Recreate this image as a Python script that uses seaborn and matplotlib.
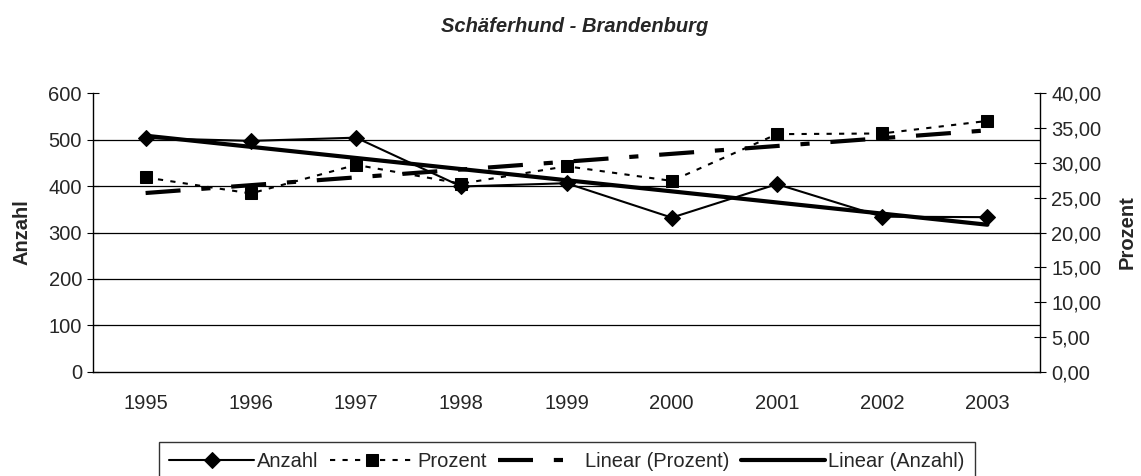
"""
Schäferhund - Brandenburg: Anzahl und Prozent 1995-2003 mit linearen Trendlinien.
"""

import numpy as np
import pandas as pd
import seaborn as sns
import matplotlib.pyplot as plt
from matplotlib.ticker import FuncFormatter, MultipleLocator

# Data
years = ["1995", "1996", "1997", "1998", "1999", "2000", "2001", "2002", "2003"]
anzahl = [503, 497, 504, 399, 406, 332, 404, 334, 333]
prozent = [27.9, 25.6, 29.7, 27.0, 29.5, 27.4, 34.1, 34.2, 36.0]

df = pd.DataFrame({"pos": np.arange(len(years)), "anzahl": anzahl, "prozent": prozent})

# Linear trend lines (as Excel computes them)
fit_a = np.polyfit(df["pos"], df["anzahl"], 1)
fit_p = np.polyfit(df["pos"], df["prozent"], 1)
df["trend_anzahl"] = np.polyval(fit_a, df["pos"])
df["trend_prozent"] = np.polyval(fit_p, df["pos"])

sns.set_style("white")
plt.rcParams["font.family"] = ["Liberation Sans", "DejaVu Sans"]
FS = 14.5
plt.rcParams["font.size"] = FS

fig, ax = plt.subplots(figsize=(11.41, 4.76), dpi=100)
fig.subplots_adjust(left=0.0815, right=0.9115, top=0.8046, bottom=0.2185)
ax2 = ax.twinx()

sns.lineplot(data=df, x="pos", y="anzahl", ax=ax, color="black", lw=1.5,
             marker="D", markersize=8.5, markeredgecolor="black", label="Anzahl")
sns.lineplot(data=df, x="pos", y="trend_anzahl", ax=ax, color="black", lw=3,
             label="Linear (Anzahl)")
sns.lineplot(data=df, x="pos", y="prozent", ax=ax2, color="black", lw=1.5,
             linestyle=(0, (2.5, 3.5)), marker="s", markersize=9,
             markeredgecolor="black", label="Prozent")
sns.lineplot(data=df, x="pos", y="trend_prozent", ax=ax2, color="black", lw=3,
             linestyle=(0, (8.4, 5, 2.2, 5)), label="Linear (Prozent)")

# Axes ranges and ticks
ax.set_xlim(-0.5, len(years) - 0.5)
ax.set_ylim(0, 600)
ax2.set_ylim(0, 40)
ax.set_xticks(df["pos"])
ax.set_xticklabels(years, fontsize=FS)
ax.set_xticks(np.arange(-0.5, len(years), 1), minor=True)
ax.tick_params(axis="x", which="major", length=0, pad=16, labelsize=FS)
ax.tick_params(axis="x", which="minor", direction="out", length=5, color="black")
ax.yaxis.set_major_locator(MultipleLocator(100))
ax.tick_params(axis="y", direction="inout", length=8, color="black", pad=4, labelsize=FS)
ax2.yaxis.set_major_locator(MultipleLocator(5))
ax2.yaxis.set_major_formatter(FuncFormatter(lambda v, p: f"{v:.2f}".replace(".", ",")))
ax2.tick_params(axis="y", direction="inout", length=8, color="black", pad=4, labelsize=FS)

ax.set_xlabel("")
ax.set_ylabel("Anzahl", fontweight="bold", fontsize=FS, labelpad=12)
ax2.set_ylabel("Prozent", fontweight="bold", fontsize=FS, labelpad=12)

# Horizontal gridlines, not at top
ax.grid(axis="y", color="black", lw=0.9)
for v, gl in zip(ax.get_yticks(), ax.yaxis.get_gridlines()):
    if v <= 0 or v >= 600:
        gl.set_visible(False)

for a in (ax, ax2):
    a.spines["top"].set_visible(False)
    for s in ("left", "right", "bottom"):
        a.spines[s].set_color("black")
        a.spines[s].set_linewidth(1)
ax.spines["right"].set_visible(False)
ax2.spines["left"].set_visible(False)
ax2.spines["bottom"].set_visible(False)

# Legend
h1, l1 = ax.get_legend_handles_labels()
h2, l2 = ax2.get_legend_handles_labels()
ax.get_legend().remove()
ax2.get_legend().remove()
handles = [h1[0], h2[0], h2[1], h1[1]]
labels = [l1[0], l2[0], l2[1], l1[1]]
leg = fig.legend(handles, labels, loc="upper center", ncol=4, fontsize=FS,
                 bbox_to_anchor=(0.497, 1 - 442 / 476), frameon=True, fancybox=False,
                 edgecolor="black", handlelength=4.2, handletextpad=0.15,
                 columnspacing=0.55, borderpad=0.5, borderaxespad=0)
leg.get_frame().set_linewidth(1)

fig.text(0.504, 1 - 27 / 476, "Schäferhund - Brandenburg", ha="center", va="center",
         fontweight="bold", fontstyle="italic", fontsize=FS)

fig.savefig("out.png", dpi=100)
